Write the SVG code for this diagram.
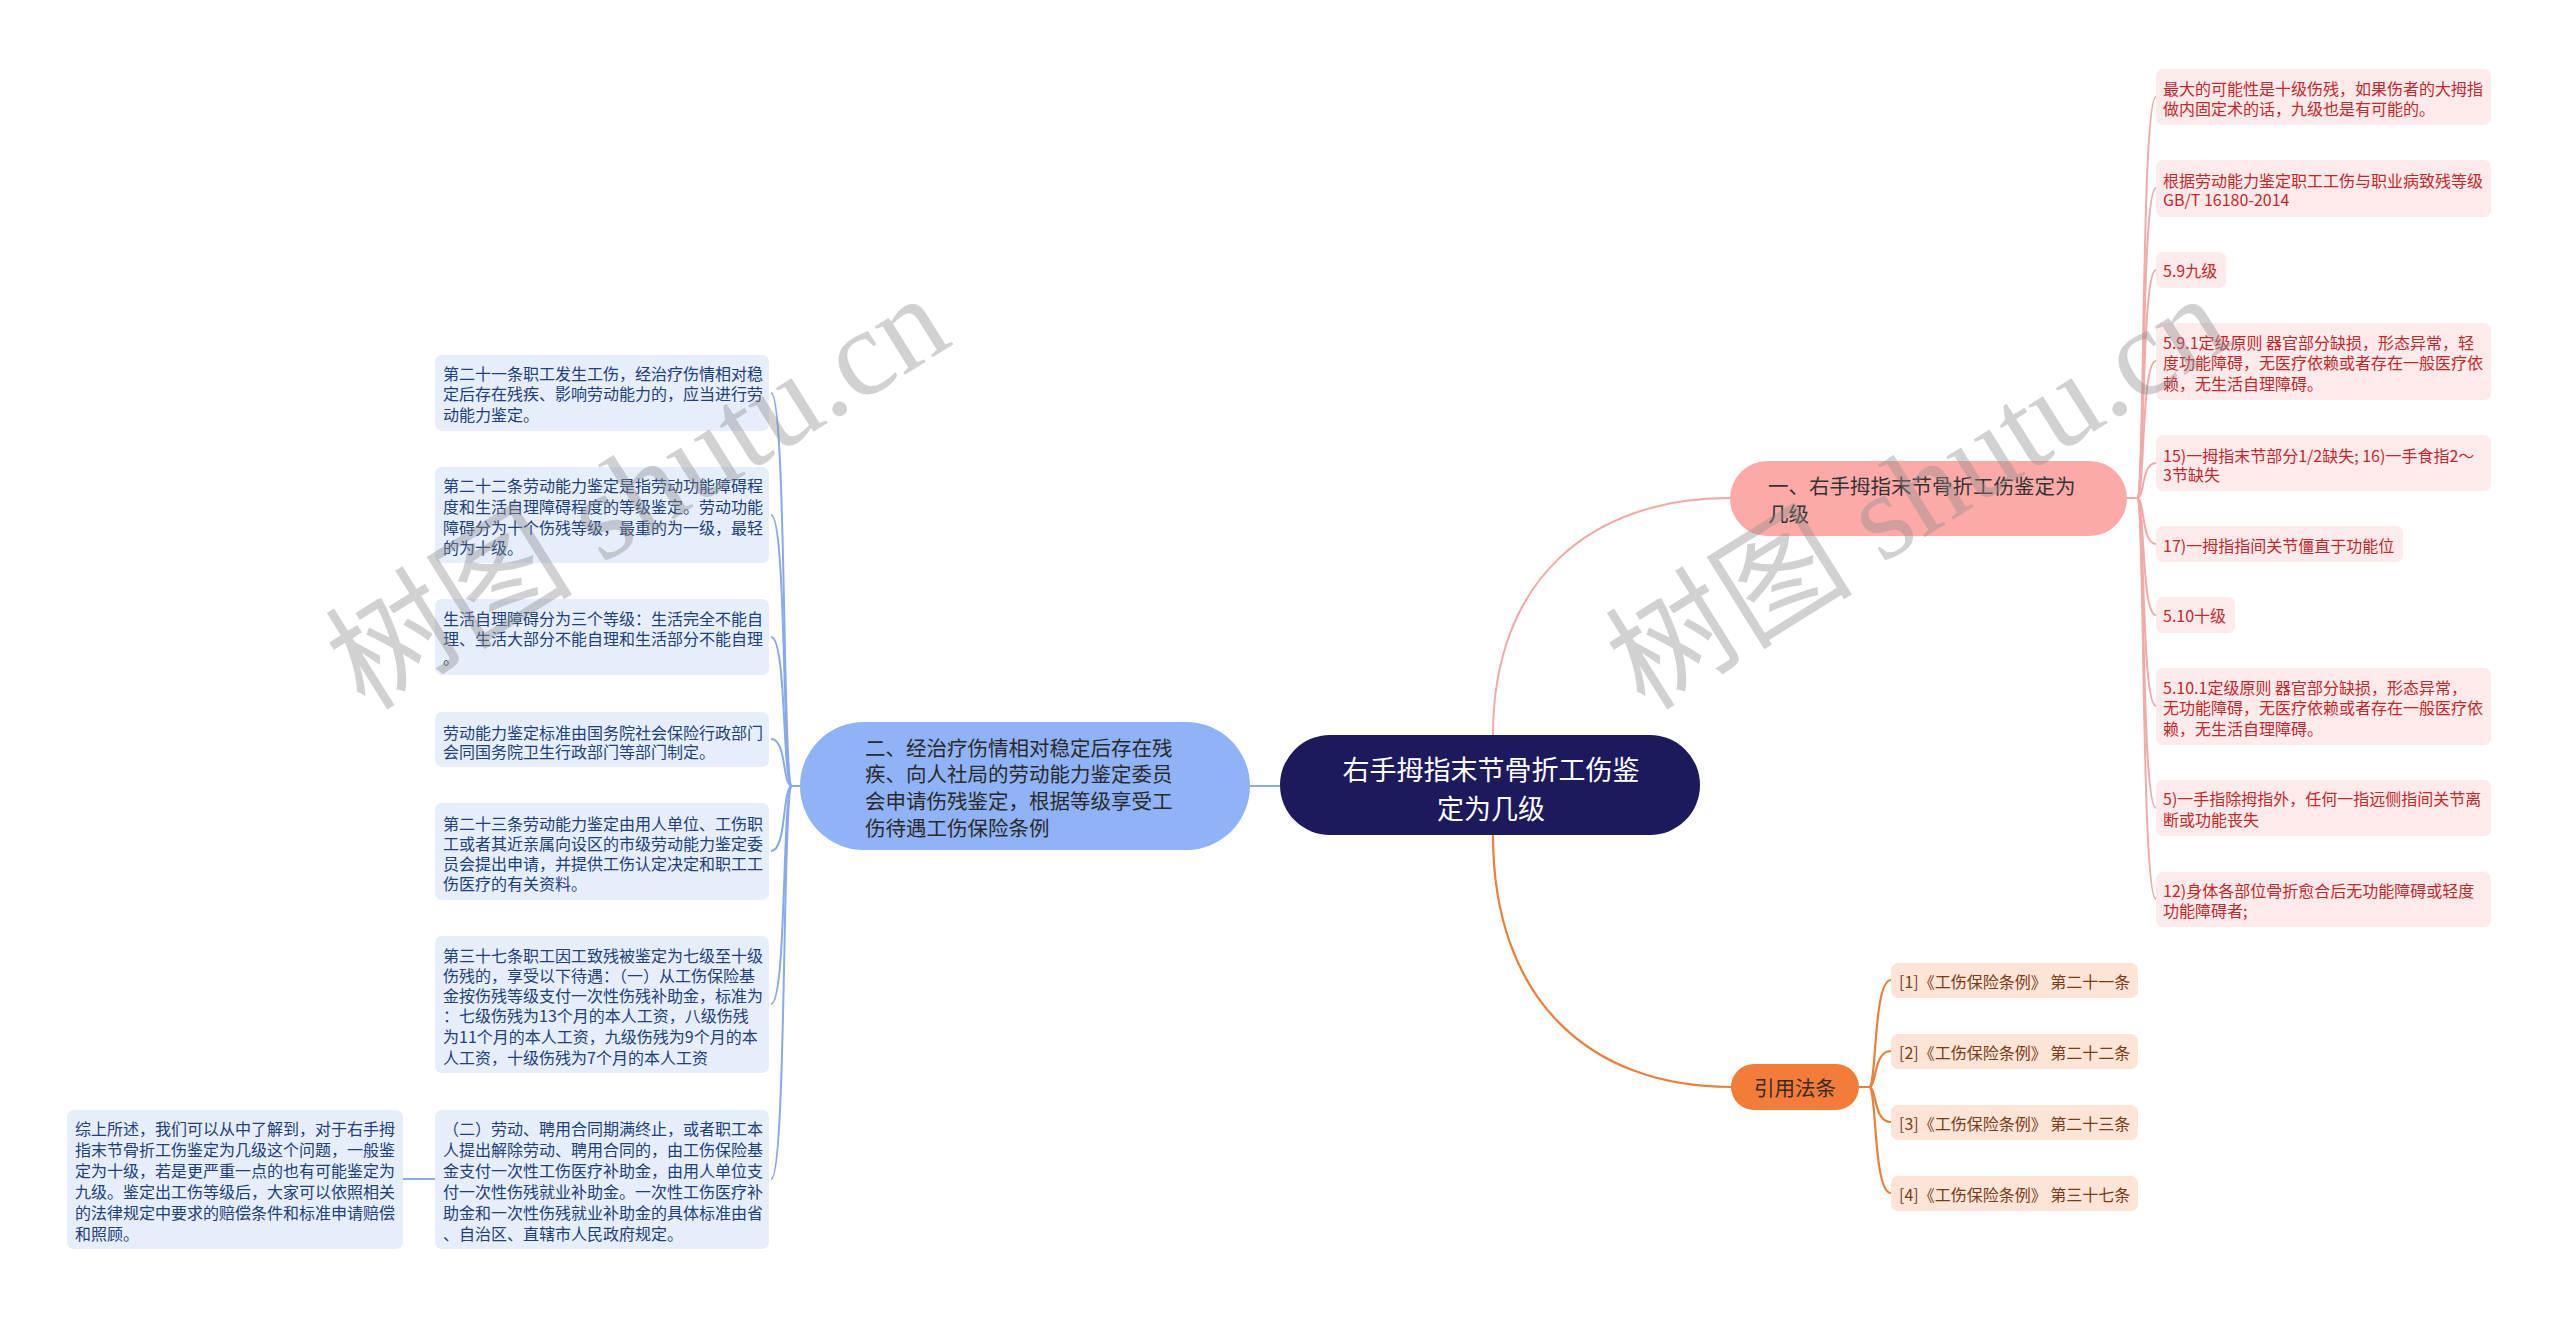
<svg xmlns="http://www.w3.org/2000/svg" width="2560" height="1317" viewBox="0 0 2560 1317">
<style>
text{font-family:"Noto Sans CJK SC","Liberation Sans",sans-serif;dominant-baseline:central}
.c1{fill:none;stroke:#f0aaa8;stroke-width:2}
.c2{fill:none;stroke:#88aaea;stroke-width:2}
.c3{fill:none;stroke:#e9803c;stroke-width:2.2}
.pl rect{fill:#fdeaea}
.pl text{font-size:16px;fill:#c4282c}
.bl rect{fill:#e6eefc}
.bl text{font-size:16px;fill:#213f78}
.cl rect{fill:#fde4d6}
.cl text{font-size:16px;fill:#7a3c16}
.wm{font-family:"Liberation Serif","Noto Sans CJK SC",serif;font-size:124px;fill:#8c8c8c;fill-opacity:0.4;dominant-baseline:alphabetic}
</style>
<rect width="2560" height="1317" fill="#ffffff"/>
<g id="connectors">
<path class="c1" d="M1493,735 C1493,580 1590,498 1730,498"/>
<path class="c3" d="M1493,835 C1493,1000 1590,1087 1731,1087"/>
<path class="c2" d="M1280,786 L1250,786"/>
<path class="c1" d="M2127,498 L2137,498 C2145,498 2141,97 2156,97"/>
<path class="c1" d="M2127,498 L2137,498 C2145,498 2141,188 2156,188"/>
<path class="c1" d="M2127,498 L2137,498 C2145,498 2141,270 2156,270"/>
<path class="c1" d="M2127,498 L2137,498 C2145,498 2141,361 2156,361"/>
<path class="c1" d="M2127,498 L2137,498 C2145,498 2141,463 2156,463"/>
<path class="c1" d="M2127,498 L2137,498 C2145,498 2141,544 2156,544"/>
<path class="c1" d="M2127,498 L2137,498 C2145,498 2141,615 2156,615"/>
<path class="c1" d="M2127,498 L2137,498 C2145,498 2141,706 2156,706"/>
<path class="c1" d="M2127,498 L2137,498 C2145,498 2141,808 2156,808"/>
<path class="c1" d="M2127,498 L2137,498 C2145,498 2141,899 2156,899"/>
<path class="c3" d="M1859,1087 L1869,1087 C1877,1087 1873,980 1891,980"/>
<path class="c3" d="M1859,1087 L1869,1087 C1877,1087 1873,1051 1891,1051"/>
<path class="c3" d="M1859,1087 L1869,1087 C1877,1087 1873,1122 1891,1122"/>
<path class="c3" d="M1859,1087 L1869,1087 C1877,1087 1873,1193 1891,1193"/>
<path class="c2" d="M800,786 L792,786 C782,786 787,393 771,393"/>
<path class="c2" d="M800,786 L792,786 C782,786 787,515 771,515"/>
<path class="c2" d="M800,786 L792,786 C782,786 787,637 771,637"/>
<path class="c2" d="M800,786 L792,786 C782,786 787,739 771,739"/>
<path class="c2" d="M800,786 L792,786 C782,786 787,851 771,851"/>
<path class="c2" d="M800,786 L792,786 C782,786 787,1004 771,1004"/>
<path class="c2" d="M800,786 L792,786 C782,786 787,1179 771,1179"/>
<path class="c2" d="M435,1179 L403,1179"/>
</g>
<g id="root">
<rect x="1280" y="735" width="420" height="100" rx="50" fill="#1c1a5c"/>
<text x="1491" y="768" font-size="27" fill="#ffffff" text-anchor="middle">右手拇指末节骨折工伤鉴</text>
<text x="1491" y="807" font-size="27" fill="#ffffff" text-anchor="middle">定为几级</text>
</g>
<g id="branch1">
<rect x="1730" y="461" width="397" height="75" rx="37.5" fill="#fcaaa8"/>
<text x="1768" y="485" font-size="20.5" fill="#333333">一、右手拇指末节骨折工伤鉴定为</text>
<text x="1768" y="513" font-size="20.5" fill="#333333">几级</text>
</g>
<g id="branch2">
<rect x="800" y="722" width="450" height="128" rx="64" fill="#8fb3f6"/>
<text font-size="20.5" fill="#2a2a2a"><tspan x="865" y="747">二、经治疗伤情相对稳定后存在残</tspan><tspan x="865" y="773">疾、向人社局的劳动能力鉴定委员</tspan><tspan x="865" y="800">会申请伤残鉴定，根据等级享受工</tspan><tspan x="865" y="827">伤待遇工伤保险条例</tspan></text>
</g>
<g id="branch3">
<rect x="1731" y="1064" width="128" height="46" rx="23" fill="#f47c3a"/>
<text x="1795" y="1087" font-size="20.5" fill="#3a2a20" text-anchor="middle">引用法条</text>
</g>
<g id="p1" class="pl"><rect x="2156" y="69" width="335" height="56" rx="7"/><text><tspan x="2163" y="88">最大的可能性是十级伤残，如果伤者的大拇指</tspan><tspan x="2163" y="108">做内固定术的话，九级也是有可能的。</tspan></text></g>
<g id="p2" class="pl"><rect x="2156" y="160" width="335" height="57" rx="7"/><text><tspan x="2163" y="180">根据劳动能力鉴定职工工伤与职业病致残等级</tspan><tspan x="2163" y="199">GB/T 16180-2014</tspan></text></g>
<g id="p3" class="pl"><rect x="2156" y="252" width="70" height="36" rx="7"/><text x="2163" y="270">5.9九级</text></g>
<g id="p4" class="pl"><rect x="2156" y="323" width="335" height="77" rx="7"/><text><tspan x="2163" y="342">5.9.1定级原则 器官部分缺损，形态异常，轻</tspan><tspan x="2163" y="362">度功能障碍，无医疗依赖或者存在一般医疗依</tspan><tspan x="2163" y="383">赖，无生活自理障碍。</tspan></text></g>
<g id="p5" class="pl"><rect x="2156" y="435" width="335" height="56" rx="7"/><text><tspan x="2163" y="455">15)一拇指末节部分1/2缺失; 16)一手食指2～</tspan><tspan x="2163" y="474">3节缺失</tspan></text></g>
<g id="p6" class="pl"><rect x="2156" y="526" width="247" height="36" rx="7"/><text x="2163" y="545">17)一拇指指间关节僵直于功能位</text></g>
<g id="p7" class="pl"><rect x="2156" y="597" width="79" height="36" rx="7"/><text x="2163" y="615">5.10十级</text></g>
<g id="p8" class="pl"><rect x="2156" y="668" width="335" height="77" rx="7"/><text><tspan x="2163" y="687">5.10.1定级原则 器官部分缺损，形态异常，</tspan><tspan x="2163" y="707">无功能障碍，无医疗依赖或者存在一般医疗依</tspan><tspan x="2163" y="728">赖，无生活自理障碍。</tspan></text></g>
<g id="p9" class="pl"><rect x="2156" y="780" width="335" height="56" rx="7"/><text><tspan x="2163" y="798">5)一手指除拇指外，任何一指远侧指间关节离</tspan><tspan x="2163" y="819">断或功能丧失</tspan></text></g>
<g id="p10" class="pl"><rect x="2156" y="872" width="335" height="55" rx="7"/><text><tspan x="2163" y="890">12)身体各部位骨折愈合后无功能障碍或轻度</tspan><tspan x="2163" y="910">功能障碍者;</tspan></text></g>
<g id="r1" class="cl"><rect x="1891" y="963" width="247" height="35" rx="7"/><text x="1899" y="981">[1]《工伤保险条例》 第二十一条</text></g>
<g id="r2" class="cl"><rect x="1891" y="1034" width="247" height="35" rx="7"/><text x="1899" y="1052">[2]《工伤保险条例》 第二十二条</text></g>
<g id="r3" class="cl"><rect x="1891" y="1105" width="247" height="35" rx="7"/><text x="1899" y="1123">[3]《工伤保险条例》 第二十三条</text></g>
<g id="r4" class="cl"><rect x="1891" y="1176" width="247" height="35" rx="7"/><text x="1899" y="1194">[4]《工伤保险条例》 第三十七条</text></g>
<g id="bA" class="bl"><rect x="435" y="355" width="334" height="76" rx="7"/><text><tspan x="443" y="373">第二十一条职工发生工伤，经治疗伤情相对稳</tspan><tspan x="443" y="393">定后存在残疾、影响劳动能力的，应当进行劳</tspan><tspan x="443" y="414">动能力鉴定。</tspan></text></g>
<g id="bB" class="bl"><rect x="435" y="467" width="334" height="96" rx="7"/><text><tspan x="443" y="485">第二十二条劳动能力鉴定是指劳动功能障碍程</tspan><tspan x="443" y="506">度和生活自理障碍程度的等级鉴定。劳动功能</tspan><tspan x="443" y="527">障碍分为十个伤残等级，最重的为一级，最轻</tspan><tspan x="443" y="547">的为十级。</tspan></text></g>
<g id="bC" class="bl"><rect x="435" y="599" width="334" height="76" rx="7"/><text><tspan x="443" y="618">生活自理障碍分为三个等级：生活完全不能自</tspan><tspan x="443" y="638">理、生活大部分不能自理和生活部分不能自理</tspan><tspan x="443" y="657">。</tspan></text></g>
<g id="bD" class="bl"><rect x="435" y="712" width="334" height="55" rx="7"/><text><tspan x="443" y="732">劳动能力鉴定标准由国务院社会保险行政部门</tspan><tspan x="443" y="751">会同国务院卫生行政部门等部门制定。</tspan></text></g>
<g id="bE" class="bl"><rect x="435" y="803" width="334" height="97" rx="7"/><text><tspan x="443" y="823">第二十三条劳动能力鉴定由用人单位、工伤职</tspan><tspan x="443" y="843">工或者其近亲属向设区的市级劳动能力鉴定委</tspan><tspan x="443" y="863">员会提出申请，并提供工伤认定决定和职工工</tspan><tspan x="443" y="883">伤医疗的有关资料。</tspan></text></g>
<g id="bF" class="bl"><rect x="435" y="936" width="334" height="137" rx="7"/><text><tspan x="443" y="955">第三十七条职工因工致残被鉴定为七级至十级</tspan><tspan x="443" y="975">伤残的，享受以下待遇：（一）从工伤保险基</tspan><tspan x="443" y="995">金按伤残等级支付一次性伤残补助金，标准为</tspan><tspan x="443" y="1015">：七级伤残为13个月的本人工资，八级伤残</tspan><tspan x="443" y="1036">为11个月的本人工资，九级伤残为9个月的本</tspan><tspan x="443" y="1057">人工资，十级伤残为7个月的本人工资</tspan></text></g>
<g id="bG" class="bl"><rect x="435" y="1110" width="334" height="139" rx="7"/><text><tspan x="443" y="1128">（二）劳动、聘用合同期满终止，或者职工本</tspan><tspan x="443" y="1149">人提出解除劳动、聘用合同的，由工伤保险基</tspan><tspan x="443" y="1170">金支付一次性工伤医疗补助金，由用人单位支</tspan><tspan x="443" y="1191">付一次性伤残就业补助金。一次性工伤医疗补</tspan><tspan x="443" y="1212">助金和一次性伤残就业补助金的具体标准由省</tspan><tspan x="443" y="1233">、自治区、直辖市人民政府规定。</tspan></text></g>
<g id="bH" class="bl"><rect x="67" y="1110" width="336" height="139" rx="7"/><text><tspan x="75" y="1128">综上所述，我们可以从中了解到，对于右手拇</tspan><tspan x="75" y="1149">指末节骨折工伤鉴定为几级这个问题，一般鉴</tspan><tspan x="75" y="1170">定为十级，若是更严重一点的也有可能鉴定为</tspan><tspan x="75" y="1191">九级。鉴定出工伤等级后，大家可以依照相关</tspan><tspan x="75" y="1212">的法律规定中要求的赔偿条件和标准申请赔偿</tspan><tspan x="75" y="1233">和照顾。</tspan></text></g>
<text class="wm" x="365" y="712" transform="rotate(-32 365 712)">树图 shutu.cn</text>
<text class="wm" x="1645" y="712" transform="rotate(-32 1645 712)">树图 shutu.cn</text>
</svg>
